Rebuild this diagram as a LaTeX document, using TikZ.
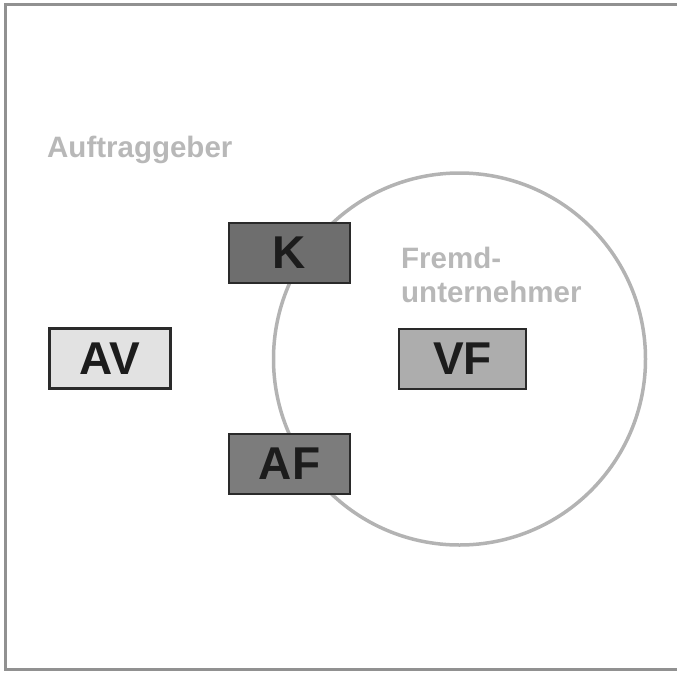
\documentclass[tikz,border=0pt]{standalone}
\usepackage{fontspec}
\setmainfont{Liberation Sans}
\definecolor{framegray}{HTML}{919191}
\definecolor{ringgray}{HTML}{B3B3B3}
\definecolor{labelgray}{HTML}{B8B8B8}
\definecolor{edgedark}{HTML}{2A2A2A}
\definecolor{inkdark}{HTML}{1C1C1C}
\definecolor{fillK}{HTML}{6E6E6E}
\definecolor{fillAF}{HTML}{7C7C7C}
\definecolor{fillAV}{HTML}{E2E2E2}
\definecolor{fillVF}{HTML}{ADADAD}
\tikzset{
  rolebox/.style={draw=edgedark, line width=2.6pt, inner sep=0pt,
    minimum width=121pt, minimum height=60pt,
    font=\fontsize{46}{46}\selectfont\bfseries, text=inkdark},
  grouplabel/.style={font=\fontsize{29.5}{34}\selectfont\bfseries,
    text=labelgray, inner sep=0pt, align=left}
}
\begin{document}
\begin{tikzpicture}[x=1pt, y=-1pt]
  \useasboundingbox (0,0) rectangle (677,672);
  \begin{scope}
    \clip (0,0) rectangle (677,672);
    % outer frame (runs past the right edge)
    \draw[framegray, line width=3pt] (5.5,4) rectangle (700,669);
  \end{scope}
  % contractor ring
  \draw[ringgray, line width=3.5pt] (459.5,359) circle (186);
  % group labels
  \node[grouplabel, anchor=base west] (auftrag) at (47,157) {Auftraggeber};
  \node[grouplabel, anchor=base west] (fremd) at (401,268) {Fremd-};
  \node[grouplabel, anchor=base west] (unter) at (401,302) {unternehmer};
  % role boxes
  \node[rolebox, fill=fillK]  (K)  at (289.5,253) {K};
  \node[rolebox, fill=fillAV] (AV) at (110,358.5) {AV};
  \node[rolebox, fill=fillVF, minimum width=127pt] (VF) at (462.5,359) {VF};
  \node[rolebox, fill=fillAF] (AF) at (289.5,464) {AF};
\end{tikzpicture}
\end{document}
